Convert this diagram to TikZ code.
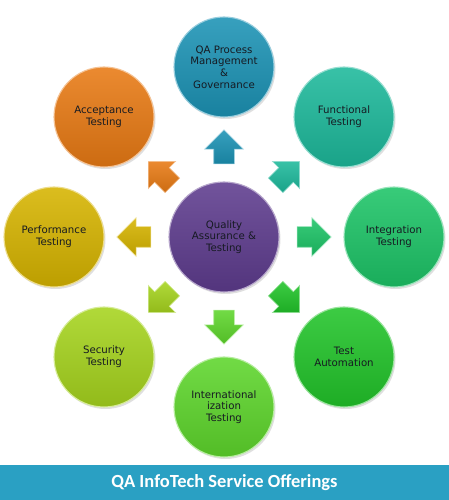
\documentclass[tikz,border=0pt]{standalone}
\usepackage{fontspec}
\setmainfont{DejaVu Sans}
\newfontfamily\bandfont{Carlito}
\usetikzlibrary{calc,shapes.arrows,shadows}
\definecolor{proc}{HTML}{1C93B5}
\definecolor{func}{HTML}{1DB99B}
\definecolor{integ}{HTML}{1DC467}
\definecolor{autom}{HTML}{22C42A}
\definecolor{intl}{HTML}{5ED62C}
\definecolor{secu}{HTML}{A6D41E}
\definecolor{perf}{HTML}{D6B400}
\definecolor{accp}{HTML}{E87A14}
\definecolor{core}{HTML}{5E3C8E}
\definecolor{band}{HTML}{2AA0C3}
\definecolor{ink}{HTML}{161A22}
\tikzset{
  ball/.style  ={circle, inner sep=0pt, minimum size=100pt, align=center,
                 font=\fontsize{10.2}{11.8}\selectfont, text=ink,
                 top color=#1!88!white, bottom color=#1!88!black,
                 draw=#1!45!white, line width=1.1pt,
                 drop shadow={shadow xshift=1.5pt, shadow yshift=-2pt, opacity=0.25}},
  % the hub is a bit larger than the rest
  hub/.style   ={ball=#1, minimum size=110pt},
  arr/.style   ={single arrow, inner sep=10pt, minimum height=34pt,
                 single arrow head extend=9pt,
                 top color=#1!88!white, bottom color=#1!88!black,
                 draw=#1!45!white, line width=0.6pt},
}

\begin{document}
\begin{tikzpicture}[x=1pt,y=1pt]
  \useasboundingbox (0,0) rectangle (449,500);
  % hub
  \node[hub=core] (qa) at (224,263) {Quality\\Assurance \&\\Testing};
  % ring of offerings
  \node[ball=proc]  (gov)  at (224,433) {QA Process\\Management\\\&\\Governance};
  \node[ball=func]  (fun)  at (344,383) {Functional\\Testing};
  \node[ball=integ] (int)  at (394,263) {Integration\\Testing};
  \node[ball=autom] (aut)  at (344,143) {Test\\Automation};
  \node[ball=intl]  (i18n) at (224,93)  {International\\ization\\Testing};
  \node[ball=secu]  (sec)  at (104,143) {Security\\Testing};
  \node[ball=perf]  (prf)  at (54,263)  {Performance\\Testing};
  \node[ball=accp]  (acc)  at (104,383) {Acceptance\\Testing};
  % arrows out of the hub
  \node[arr=proc,  rotate=90]   at ($(qa)!0.5!(gov)$)  {};
  \node[arr=func,  rotate=45]   at ($(qa)!0.5!(fun)$)  {};
  \node[arr=integ, rotate=0]    at ($(qa)!0.5!(int)$)  {};
  \node[arr=autom, rotate=-45]  at ($(qa)!0.5!(aut)$)  {};
  \node[arr=intl,  rotate=-90]  at ($(qa)!0.5!(i18n)$) {};
  \node[arr=secu,  rotate=-135] at ($(qa)!0.5!(sec)$)  {};
  \node[arr=perf,  rotate=180]  at ($(qa)!0.5!(prf)$)  {};
  \node[arr=accp,  rotate=135]  at ($(qa)!0.5!(acc)$)  {};
  % title band
  \fill[band] (0,0) rectangle (449,35);
  \node[font=\bandfont\bfseries\fontsize{18.5}{20}\selectfont, text=white] (title) at (224.5,17.5)
    {QA InfoTech Service Offerings};
\end{tikzpicture}
\end{document}
